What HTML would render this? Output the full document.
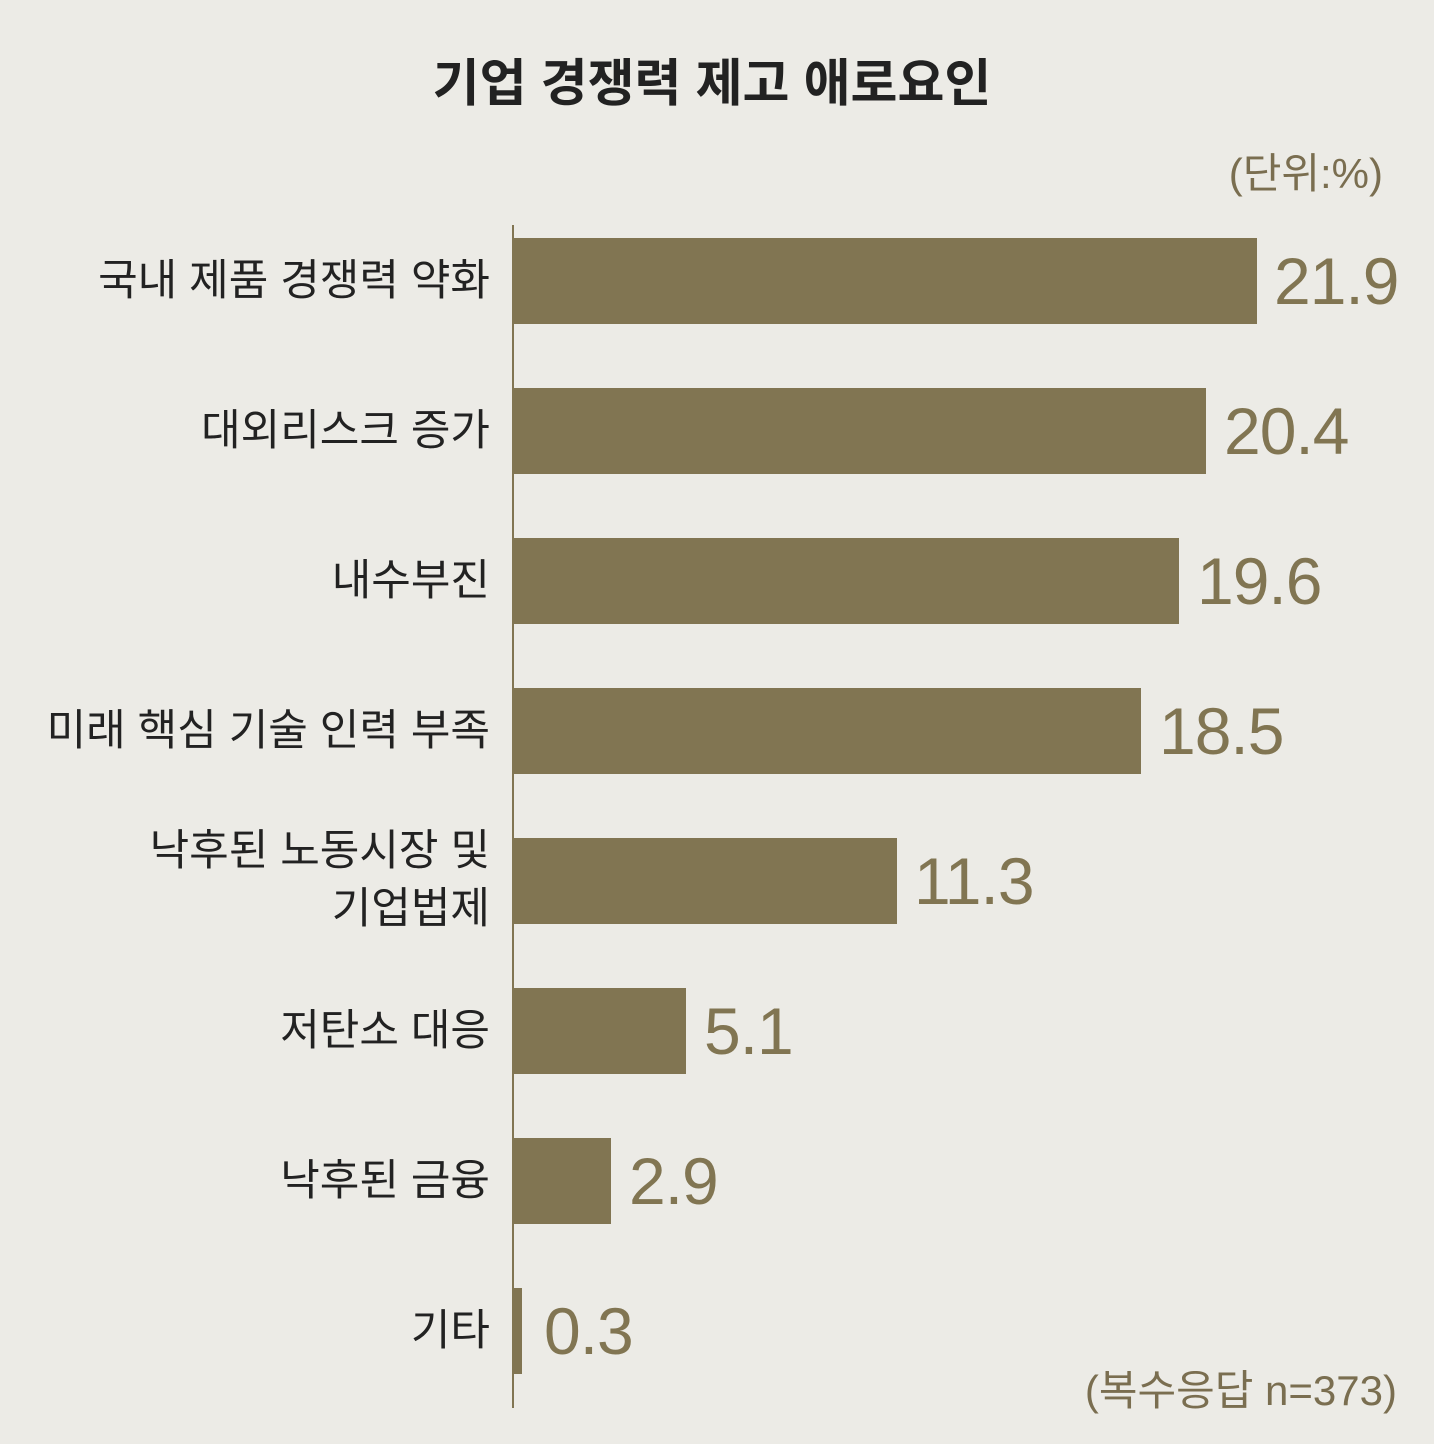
<!DOCTYPE html>
<html><head><meta charset="utf-8"><style>
body{margin:0;width:1434px;height:1444px;background:#ecebe6;position:relative;overflow:hidden;font-family:"Liberation Sans","Noto Sans CJK KR",sans-serif}
.t{position:absolute;white-space:nowrap}
.bar{position:absolute;left:513px;height:86px;background:#817552}
.lab{position:absolute;right:944px;color:#222;font-size:43px;text-align:right;line-height:58px;white-space:nowrap}
.val{position:absolute;color:#817552;font-size:66px;letter-spacing:-1px;line-height:86px}
</style></head><body>
<div class="t" style="left:0;width:1424px;text-align:center;top:42px;font-size:51px;font-weight:bold;color:#222">기업 경쟁력 제고 애로요인</div>
<div class="t" style="right:51px;top:140px;font-size:42px;color:#7a6e50">(단위:%)</div>
<div style="position:absolute;left:512px;top:225px;width:2px;height:1183px;background:#817552"></div>

<div class="bar" style="top:238px;width:744px"></div><div class="val" style="left:1274px;top:238px">21.9</div>
<div class="lab" style="top:252px">국내 제품 경쟁력 약화</div>
<div class="bar" style="top:388px;width:693px"></div><div class="val" style="left:1224px;top:388px">20.4</div>
<div class="lab" style="top:402px">대외리스크 증가</div>
<div class="bar" style="top:538px;width:666px"></div><div class="val" style="left:1197px;top:538px">19.6</div>
<div class="lab" style="top:552px">내수부진</div>
<div class="bar" style="top:688px;width:628px"></div><div class="val" style="left:1159px;top:688px">18.5</div>
<div class="lab" style="top:702px">미래 핵심 기술 인력 부족</div>
<div class="bar" style="top:838px;width:384px"></div><div class="val" style="left:914px;top:838px">11.3</div>
<div class="lab" style="top:822px">낙후된 노동시장 및<br>기업법제</div>
<div class="bar" style="top:988px;width:173px"></div><div class="val" style="left:704px;top:988px">5.1</div>
<div class="lab" style="top:1002px">저탄소 대응</div>
<div class="bar" style="top:1138px;width:98px"></div><div class="val" style="left:629px;top:1138px">2.9</div>
<div class="lab" style="top:1152px">낙후된 금융</div>
<div class="bar" style="top:1288px;width:9px"></div><div class="val" style="left:544px;top:1288px">0.3</div>
<div class="lab" style="top:1302px">기타</div>
<div class="t" style="right:37px;top:1357px;font-size:42px;color:#7a6e50">(복수응답 n=373)</div>
</body></html>
